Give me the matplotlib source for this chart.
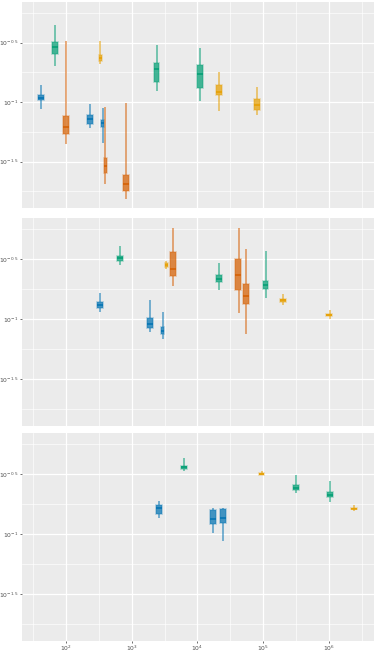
import numpy as np
import matplotlib.pyplot as plt

COLORS = {'blue': '#0072B2', 'green': '#009E73', 'orange': '#D55E00', 'yellow': '#E69F00'}

# panel 1
p1_x = [41.5, 67.9, 98.9, 330, 235, 363, 394, 815, 2393, 10990, 21430, 81470]
p1_group = ['blue', 'green', 'orange', 'yellow', 'blue', 'blue', 'orange', 'orange',
            'green', 'green', 'yellow', 'yellow']
p1_lo = [0.0875, 0.201, 0.0441, 0.2075, 0.0604, 0.0455, 0.0206, 0.01545, 0.1236, 0.1019, 0.0847, 0.0774]
p1_q1 = [0.104, 0.256, 0.0535, 0.221, 0.0659, 0.0619, 0.0255, 0.018, 0.1476, 0.1315, 0.1138, 0.0863]
p1_med = [0.1086, 0.291, 0.0619, 0.2355, 0.0721, 0.0668, 0.0289, 0.0206, 0.1897, 0.1722, 0.1227, 0.0951]
p1_q3 = [0.1143, 0.321, 0.076, 0.251, 0.0783, 0.0713, 0.0341, 0.0242, 0.2153, 0.2061, 0.1387, 0.1059]
p1_hi = [0.1387, 0.447, 0.329, 0.329, 0.0957, 0.0891, 0.0914, 0.0993, 0.303, 0.2858, 0.1778, 0.1334]
p1_n = [2, 2, 2, 1, 2, 1, 1, 2, 2, 2, 2, 2]

# panel 2
p2_x = [327, 661, 1897, 2992, 3365, 4305, 21430, 42270, 54580, 109150, 203240, 1023000]
p2_group = ['blue', 'green', 'blue', 'blue', 'yellow', 'orange', 'green', 'orange',
            'orange', 'green', 'yellow', 'yellow']
p2_lo = [0.1143, 0.2838, 0.078, 0.0681, 0.2642, 0.1897, 0.1754, 0.113, 0.0755, 0.1496, 0.131, 0.1]
p2_q1 = [0.1236, 0.3027, 0.0847, 0.075, 0.2729, 0.2296, 0.2061, 0.1754, 0.1343, 0.1778, 0.1387, 0.1059]
p2_med = [0.131, 0.3206, 0.0914, 0.08, 0.2818, 0.2642, 0.2183, 0.2328, 0.1574, 0.1945, 0.1432, 0.1086]
p2_q3 = [0.1387, 0.335, 0.1014, 0.0863, 0.2931, 0.3597, 0.2355, 0.3162, 0.1982, 0.2084, 0.1476, 0.1114]
p2_hi = [0.1648, 0.4055, 0.1459, 0.1143, 0.3027, 0.5808, 0.2931, 0.5728, 0.3811, 0.3733, 0.1614, 0.1197]
p2_n = [2, 2, 2, 1, 1, 2, 2, 2, 2, 2, 2, 2]

# panel 3
p3_x = [2630, 6310, 17140, 24320, 94840, 316200, 1047000, 2432000]
p3_group = ['blue', 'green', 'blue', 'blue', 'yellow', 'green', 'green', 'yellow']
p3_lo = [0.1377, 0.3373, 0.1026, 0.0885, 0.3083, 0.2183, 0.1849, 0.1563]
p3_q1 = [0.1486, 0.3499, 0.121, 0.125, 0.3141, 0.2328, 0.2032, 0.1607]
p3_med = [0.1648, 0.3614, 0.1334, 0.1352, 0.3184, 0.2415, 0.2128, 0.1626]
p3_q3 = [0.1766, 0.3733, 0.1585, 0.1614, 0.3243, 0.2559, 0.2239, 0.1648]
p3_hi = [0.1884, 0.4276, 0.1667, 0.1648, 0.3373, 0.3105, 0.2767, 0.1734]
p3_n = [2, 2, 2, 2, 2, 2, 2, 2]

panels = [
    (p1_x, p1_group, p1_lo, p1_q1, p1_med, p1_q3, p1_hi, p1_n),
    (p2_x, p2_group, p2_lo, p2_q1, p2_med, p2_q3, p2_hi, p2_n),
    (p3_x, p3_group, p3_lo, p3_q1, p3_med, p3_q3, p3_hi, p3_n),
]

x_major = [1e2, 1e3, 1e4, 1e5, 1e6]
x_labels = [r'$10^{2}$', r'$10^{3}$', r'$10^{4}$', r'$10^{5}$', r'$10^{6}$']
x_minor = [10**1.5, 10**2.5, 10**3.5, 10**4.5, 10**5.5, 10**6.5]
y_major = [10**-0.5, 10**-1, 10**-1.5]
y_labels = [r'$10^{-0.5}$', r'$10^{-1}$', r'$10^{-1.5}$']
y_minor = [10**-0.25, 10**-0.75, 10**-1.25, 10**-1.75]


def draw_panel(ax, x, group, lo, q1, med, q3, hi, n):
    for i in range(len(x)):
        c = COLORS[group[i]]
        d = 0.045 * n[i]  # box width in decades
        w = x[i] * (10**(d / 2) - 10**(-d / 2))
        stat = dict(med=med[i], q1=q1[i], q3=q3[i], whislo=lo[i], whishi=hi[i], fliers=[])
        ax.bxp([stat], positions=[x[i]], widths=[w], patch_artist=True,
               showfliers=False, showcaps=False, manage_ticks=False,
               boxprops=dict(facecolor=(c, 0.72), edgecolor=(c, 0.3), linewidth=1.2),
               whiskerprops=dict(color=c, alpha=0.55, linewidth=1.3, solid_capstyle='butt'),
               medianprops=dict(color=c, linewidth=1.1, solid_capstyle='butt'))


fig = plt.figure(figsize=(3.74, 6.54), dpi=100)
bottoms = [0.682, 0.3486, 0.0199]
heights = [0.315, 0.318, 0.318]

for k, data in enumerate(panels):
    ax = fig.add_axes([0.0588, bottoms[k], 0.94, heights[k]])
    ax.set_facecolor('#EBEBEB')
    ax.set_xscale('log')
    ax.set_yscale('log')
    draw_panel(ax, *data)
    ax.set_xlim(10**1.33, 10**6.68)
    ax.set_ylim(10**-1.89, 10**-0.157)
    ax.set_xticks(x_major)
    ax.set_xticks(x_minor, minor=True)
    ax.set_yticks(y_major)
    ax.set_yticks(y_minor, minor=True)
    ax.set_yticklabels(y_labels)
    if k == 2:
        ax.set_xticklabels(x_labels)
    else:
        ax.set_xticklabels([])
    ax.tick_params(which='major', length=1.5, width=0.5, color='#333333',
                   labelsize=4.3, labelcolor='#4D4D4D', pad=0.8)
    ax.tick_params(which='minor', length=0)
    ax.grid(which='major', color='white', linewidth=0.9)
    ax.grid(which='minor', color='white', linewidth=0.45)
    ax.set_axisbelow(True)
    for s in ax.spines.values():
        s.set_visible(False)
    if k < 2:
        ax.tick_params(axis='x', which='major', length=0)

fig.savefig('out.png', dpi=100)
